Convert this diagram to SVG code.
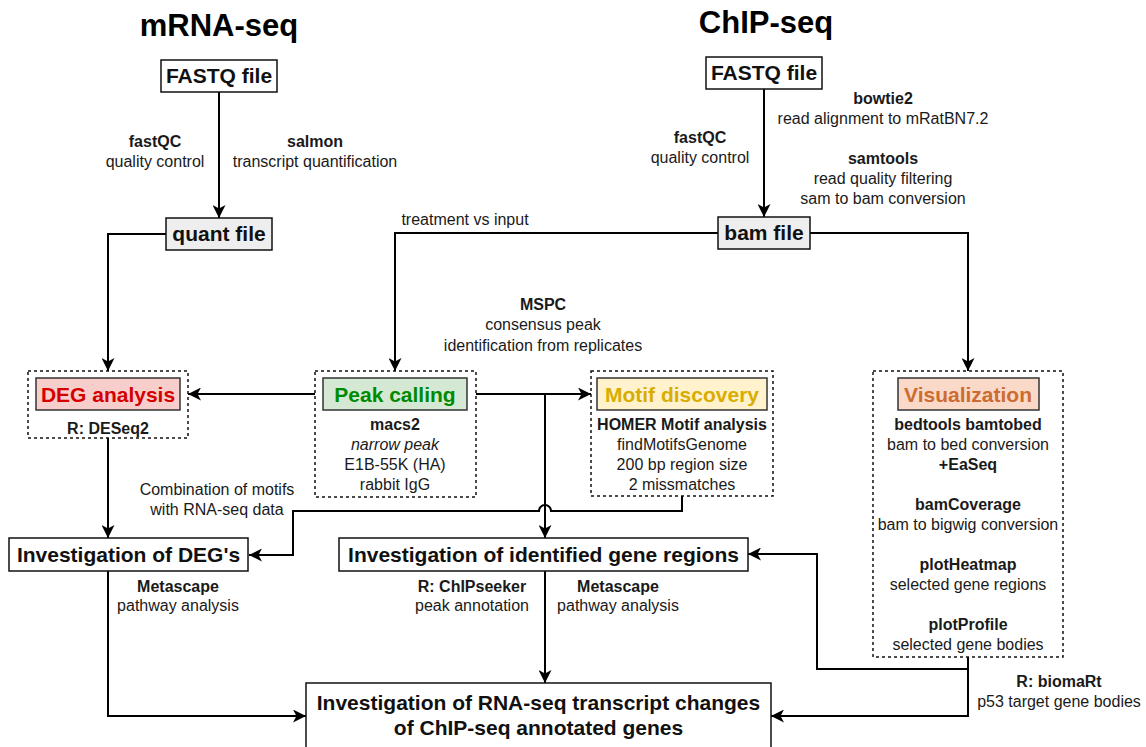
<svg xmlns="http://www.w3.org/2000/svg" width="1146" height="747" viewBox="0 0 1146 747">
<defs>
<marker id="arr" markerUnits="userSpaceOnUse" markerWidth="14" markerHeight="13" refX="13" refY="6.5" orient="auto" viewBox="0 0 14 13">
<path d="M0,0 L13,6.5 L0,13 L3.5,6.5 Z" fill="#000"/>
</marker>
<style>
text{font-family:"Liberation Sans",Arial,sans-serif;fill:#1a1a1a;text-anchor:middle}
.title{font-size:31px;font-weight:bold;fill:#000}
.big{font-size:21px;font-weight:bold;fill:#111}
.sm{font-size:16px}
.b{font-weight:bold}
.i{font-style:italic}
.box{fill:#fff;stroke:#111;stroke-width:1.5}
.file{fill:#eeeeee;stroke:#111;stroke-width:1.5}
.dash{fill:none;stroke:#111;stroke-width:1.5;stroke-dasharray:3 3}
.inner{stroke:#333;stroke-width:1.5}
.con{fill:none;stroke:#000;stroke-width:2}
.arr{marker-end:url(#arr)}
</style>
</defs>
<rect width="1146" height="747" fill="#fff"/>

<g id="titles">
<text class="title" x="219" y="36">mRNA-seq</text>
<text class="title" x="766" y="33">ChIP-seq</text>
</g>

<g id="connectors">
<path class="con arr" d="M219,92 V218"/>
<path class="con arr" d="M764,89 V217"/>
<path class="con arr" d="M166,234 H108 V371"/>
<path class="con arr" d="M718,233 H395 V371"/>
<path class="con arr" d="M810,233 H968 V371"/>
<path class="con arr" d="M315,394 H188"/>
<path class="con arr" d="M476,394 H591"/>
<path class="con arr" d="M545,394 V538"/>
<path class="con arr" d="M682,496 V511 H551 A6,6 0 0 0 539,511 H293 V555 H249"/>
<path class="con arr" d="M108,438 V538"/>
<path class="con arr" d="M108,571 V716 H306"/>
<path class="con arr" d="M545,571 V683"/>
<path class="con arr" d="M968,657 V669 H817 V554 H748"/>
<path class="con arr" d="M968,669 V716 H771"/>
</g>

<g id="connector-labels" class="sm">
<text x="155" y="147" class="b">fastQC</text>
<text x="155" y="167">quality control</text>
<text x="315" y="147" class="b">salmon</text>
<text x="315" y="167">transcript quantification</text>
<text x="700" y="143" class="b">fastQC</text>
<text x="700" y="163">quality control</text>
<text x="883" y="104" class="b">bowtie2</text>
<text x="883" y="124">read alignment to mRatBN7.2</text>
<text x="883" y="164" class="b">samtools</text>
<text x="883" y="184">read quality filtering</text>
<text x="883" y="204">sam to bam conversion</text>
<text x="465" y="225">treatment vs input</text>
<text x="543" y="310" class="b">MSPC</text>
<text x="543" y="330">consensus peak</text>
<text x="543" y="351">identification from replicates</text>
<text x="217" y="495">Combination of motifs</text>
<text x="217" y="515">with RNA-seq data</text>
<text x="178" y="592" class="b">Metascape</text>
<text x="178" y="611">pathway analysis</text>
<text x="472" y="592" class="b">R: ChIPseeker</text>
<text x="472" y="611">peak annotation</text>
<text x="618" y="592" class="b">Metascape</text>
<text x="618" y="611">pathway analysis</text>
<text x="1059" y="687" class="b">R: biomaRt</text>
<text x="1059" y="707">p53 target gene bodies</text>
</g>

<g id="mrna-fastq">
<rect class="box" x="161" y="60" width="116" height="32"/>
<text class="big" x="219" y="83">FASTQ file</text>
</g>
<g id="quant-file">
<rect class="file" x="166" y="218" width="106" height="32"/>
<text class="big" x="219" y="241">quant file</text>
</g>
<g id="chip-fastq">
<rect class="box" x="706" y="57" width="116" height="32"/>
<text class="big" x="764" y="80">FASTQ file</text>
</g>
<g id="bam-file">
<rect class="file" x="718" y="217" width="92" height="32"/>
<text class="big" x="764" y="240">bam file</text>
</g>

<g id="deg-analysis">
<rect class="dash" x="28" y="371" width="160" height="67"/>
<rect class="inner" x="36" y="378" width="144" height="32" fill="#f8cecc"/>
<text class="big" x="108" y="401.5" style="fill:#d40000">DEG analysis</text>
<text class="sm b" x="108" y="434">R: DESeq2</text>
</g>

<g id="peak-calling">
<rect class="dash" x="315" y="371" width="161" height="126"/>
<rect class="inner" x="323" y="378" width="144" height="32" fill="#d5e8d4"/>
<text class="big" x="395" y="401.5" style="fill:#008a00">Peak calling</text>
<text class="sm b" x="395" y="430">macs2</text>
<text class="sm i" x="395" y="450">narrow peak</text>
<text class="sm" x="395" y="470">E1B-55K (HA)</text>
<text class="sm" x="395" y="490">rabbit IgG</text>
</g>

<g id="motif-discovery">
<rect class="dash" x="591" y="371" width="182" height="125"/>
<rect class="inner" x="597" y="378" width="170" height="32" fill="#fff2cc"/>
<text class="big" x="682" y="401.5" style="fill:#d9ad00">Motif discovery</text>
<text class="sm b" x="682" y="430">HOMER Motif analysis</text>
<text class="sm" x="682" y="450">findMotifsGenome</text>
<text class="sm" x="682" y="470">200 bp region size</text>
<text class="sm" x="682" y="490">2 missmatches</text>
</g>

<g id="visualization">
<rect class="dash" x="873" y="371" width="190" height="286"/>
<rect class="inner" x="898" y="378" width="141" height="32" fill="#fad9c9"/>
<text class="big" x="968" y="401.5" style="fill:#cc6c30">Visualization</text>
<text class="sm b" x="968" y="430">bedtools bamtobed</text>
<text class="sm" x="968" y="450">bam to bed conversion</text>
<text class="sm b" x="968" y="470">+EaSeq</text>
<text class="sm b" x="968" y="510">bamCoverage</text>
<text class="sm" x="968" y="530">bam to bigwig conversion</text>
<text class="sm b" x="968" y="570">plotHeatmap</text>
<text class="sm" x="968" y="590">selected gene regions</text>
<text class="sm b" x="968" y="630">plotProfile</text>
<text class="sm" x="968" y="650">selected gene bodies</text>
</g>

<g id="investigation-degs">
<rect class="box" x="9" y="538" width="239" height="33"/>
<text class="big" x="128.5" y="562">Investigation of DEG's</text>
</g>

<g id="investigation-regions">
<rect class="box" x="339" y="538" width="409" height="33"/>
<text class="big" x="543.5" y="562">Investigation of identified gene regions</text>
</g>

<g id="investigation-rnaseq">
<rect class="box" x="306" y="683" width="465" height="72"/>
<text class="big" x="538.5" y="710">Investigation of RNA-seq transcript changes</text>
<text class="big" x="538.5" y="735">of ChIP-seq annotated genes</text>
</g>
</svg>
